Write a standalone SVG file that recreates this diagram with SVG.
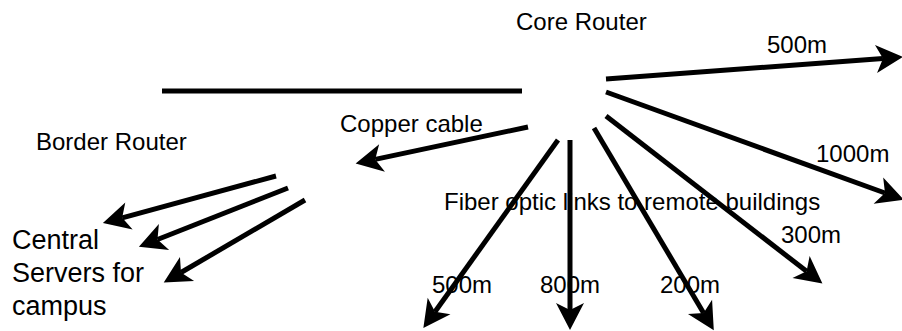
<svg xmlns="http://www.w3.org/2000/svg" width="902" height="331" viewBox="0 0 902 331">
<style>
  .lbl { font-family: "Liberation Sans", Arial, sans-serif; font-size: 24px; fill: #000; }
  .big { font-family: "Liberation Sans", Arial, sans-serif; font-size: 27px; fill: #000; }
  .edge { stroke: #000; stroke-width: 5; fill: none; }
  .arr { marker-end: url(#head); }
</style>
<defs>
  <marker id="head" markerUnits="userSpaceOnUse" orient="auto" refX="0" refY="0" markerWidth="60" markerHeight="60" overflow="visible">
    <path d="M20,0 L-7,-14 L0,0 L-7,14 Z" fill="#000"/>
  </marker>
</defs>
<rect width="902" height="331" fill="#fff"/>
<g id="core-router"><text class="lbl" x="516" y="30">Core Router</text></g>
<g id="border-router"><text class="lbl" x="36" y="150">Border Router</text></g>
<g id="central-servers">
  <text class="big" x="12" y="249">Central</text>
  <text class="big" x="12" y="282">Servers for</text>
  <text class="big" x="12" y="315">campus</text>
</g>
<g id="labels">
  <text class="lbl" x="767" y="53">500m</text>
  <text class="lbl" x="816" y="162">1000m</text>
  <text class="lbl" x="340" y="132">Copper cable</text>
  <text class="lbl" x="444" y="210">Fiber optic links to remote buildings</text>
  <text class="lbl" x="781" y="243">300m</text>
  <text class="lbl" x="432" y="293">500m</text>
  <text class="lbl" x="540" y="293">800m</text>
  <text class="lbl" x="660" y="293">200m</text>
</g>
<g id="connectors">
  <line class="edge" x1="162" y1="91" x2="522" y2="91"/>
  <line class="edge arr" x1="606" y1="79" x2="883" y2="58.5"/>
  <line class="edge arr" x1="606" y1="92" x2="885" y2="193"/>
  <line class="edge arr" x1="606" y1="116" x2="806.6" y2="271.3"/>
  <line class="edge arr" x1="594" y1="128" x2="703.6" y2="313"/>
  <line class="edge arr" x1="570" y1="140" x2="570" y2="310"/>
  <line class="edge arr" x1="558" y1="140" x2="435" y2="311.7"/>
  <line class="edge arr" x1="528" y1="127" x2="375.2" y2="159.4"/>
  <line class="edge arr" x1="276" y1="176" x2="122.2" y2="217.8"/>
  <line class="edge arr" x1="288" y1="188" x2="157.5" y2="239.5"/>
  <line class="edge arr" x1="305" y1="200" x2="181" y2="272.5"/>
</g>
</svg>
